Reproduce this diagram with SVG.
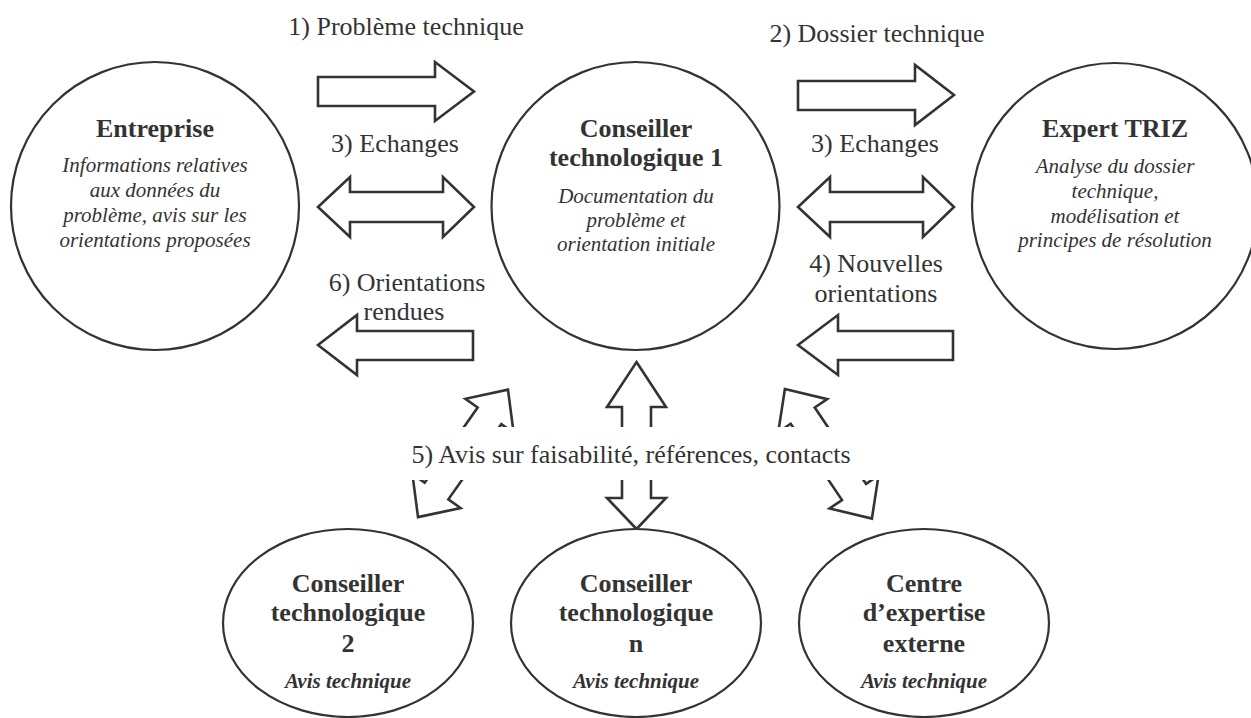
<svg xmlns="http://www.w3.org/2000/svg" width="1251" height="718" viewBox="0 0 1251 718">
<style>
.nd{fill:#fff;stroke:#333;stroke-width:2.2}
.ar{fill:#fff;stroke:#333;stroke-width:2.6;stroke-linejoin:miter}
text{font-family:"Liberation Serif","Times New Roman",serif;fill:#333;text-anchor:middle}
.t{font-size:26px;font-weight:bold}
.i{font-size:21px;font-style:italic}
.bi{font-size:21px;font-style:italic;font-weight:bold}
.lb{font-size:26px}
</style>
<defs>
<polygon id="dbl" points="0,-78 29.5,-46 14.5,-46 14.5,46 29.5,46 0,78 -29.5,46 -14.5,46 -14.5,-46 -29.5,-46"/>
</defs>
<rect width="1251" height="718" fill="#fff"/>

<g id="connectors">
  <polygon class="ar" points="318,77 435,77 435,62 474,91.5 435,121 435,106 318,106"/>
  <polygon class="ar" points="798,81 915,81 915,65 954,95 915,125 915,110 798,110"/>
  <polygon class="ar" points="318,207 350,177 350,192 443,192 443,177 474,207 443,237 443,222 350,222 350,237"/>
  <polygon class="ar" points="798,207 830,177 830,192 923,192 923,177 954,207 923,237 923,222 830,222 830,237"/>
  <polygon class="ar" points="318,345 357,315 357,331 473,331 473,360 357,360 357,375"/>
  <polygon class="ar" points="798,345 838,315 838,331 953,331 953,360 838,360 838,375"/>
  <polygon class="ar" points="636.5,362 666,407 651,407 651,498 666,498 636.5,529 607,498 622,498 622,407 607,407"/>
  <use href="#dbl" class="ar" transform="translate(463,453.4) rotate(35.2)"/>
  <use href="#dbl" class="ar" transform="translate(828.4,453.8) rotate(-33.9)"/>
  <rect x="385" y="427" width="515" height="53" fill="#fff"/>
  <text class="lb" x="406" y="35">1) Problème technique</text>
  <text class="lb" x="877" y="42">2) Dossier technique</text>
  <text class="lb" x="395" y="152">3) Echanges</text>
  <text class="lb" x="875" y="152">3) Echanges</text>
  <text class="lb" x="407" y="291">6) Orientations</text>
  <text class="lb" x="404" y="320">rendues</text>
  <text class="lb" x="876" y="272">4) Nouvelles</text>
  <text class="lb" x="876" y="302">orientations</text>
  <text class="lb" x="631" y="463">5) Avis sur faisabilité, références, contacts</text>
</g>

<g id="entreprise">
  <circle class="nd" cx="155" cy="206" r="144"/>
  <text class="t" x="155" y="137">Entreprise</text>
  <text class="i" x="155" y="172">Informations relatives</text>
  <text class="i" x="155" y="197">aux données du</text>
  <text class="i" x="155" y="222">problème, avis sur les</text>
  <text class="i" x="155" y="247">orientations proposées</text>
</g>

<g id="conseiller1">
  <circle class="nd" cx="635.5" cy="206" r="144"/>
  <text class="t" x="636" y="137">Conseiller</text>
  <text class="t" x="636" y="166">technologique 1</text>
  <text class="i" x="636" y="203">Documentation du</text>
  <text class="i" x="636" y="227">problème et</text>
  <text class="i" x="636" y="251">orientation initiale</text>
</g>

<g id="expert">
  <circle class="nd" cx="1115" cy="206" r="143"/>
  <text class="t" x="1115" y="137">Expert TRIZ</text>
  <text class="i" x="1115" y="173">Analyse du dossier</text>
  <text class="i" x="1115" y="198">technique,</text>
  <text class="i" x="1115" y="223">modélisation et</text>
  <text class="i" x="1115" y="247">principes de résolution</text>
</g>

<g id="conseiller2">
  <ellipse class="nd" cx="348" cy="623" rx="125" ry="94"/>
  <text class="t" x="348" y="592">Conseiller</text>
  <text class="t" x="348" y="621">technologique</text>
  <text class="t" x="348" y="652">2</text>
  <text class="bi" x="348" y="688">Avis technique</text>
</g>

<g id="conseillern">
  <ellipse class="nd" cx="636" cy="623" rx="125" ry="94"/>
  <text class="t" x="636" y="592">Conseiller</text>
  <text class="t" x="636" y="621">technologique</text>
  <text class="t" x="636" y="652">n</text>
  <text class="bi" x="636" y="688">Avis technique</text>
</g>

<g id="centre">
  <ellipse class="nd" cx="924" cy="623" rx="125" ry="94"/>
  <text class="t" x="924" y="592">Centre</text>
  <text class="t" x="924" y="621">d’expertise</text>
  <text class="t" x="924" y="652">externe</text>
  <text class="bi" x="924" y="688">Avis technique</text>
</g>
</svg>
